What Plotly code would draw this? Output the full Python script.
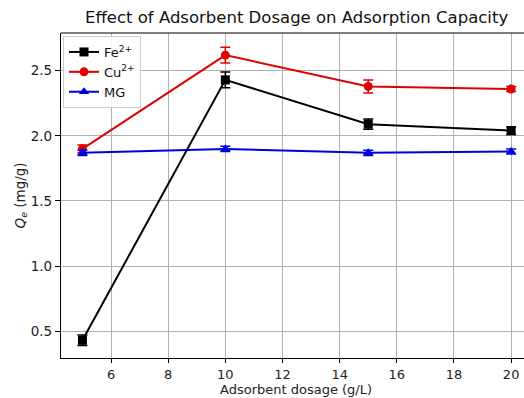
import plotly.graph_objects as go

dosage = [5, 10, 15, 20]
fe_q = [0.43, 2.43, 2.09, 2.04]
fe_err = [0.04, 0.06, 0.04, 0.03]
cu_q = [1.90, 2.62, 2.38, 2.36]
cu_err = [0.03, 0.06, 0.05, 0.02]
mg_q = [1.87, 1.90, 1.87, 1.88]
mg_err = [0.02, 0.02, 0.02, 0.02]

series = [
    ("Fe<sup>2+</sup>", fe_q, fe_err, "black", "square"),
    ("Cu<sup>2+</sup>", cu_q, cu_err, "#e00000", "circle"),
    ("MG", mg_q, mg_err, "#0000dd", "triangle-up"),
]

FONT = "DejaVu Sans"
fig = go.Figure()
for name, q, err, col, sym in series:
    fig.add_trace(go.Scatter(
        x=dosage, y=q, name=name, mode="lines+markers",
        line=dict(color=col, width=2),
        marker=dict(color=col, symbol=sym, size=9),
        error_y=dict(type="data", array=err, visible=True, color=col, thickness=1.5, width=5),
    ))

W, H = 524, 398
L, R, T, B = 61, 0, 33, 40
pw = W - L - R
ph = H - T - B

fig.update_layout(
    width=W, height=H,
    margin=dict(l=L, r=R, t=T, b=B),
    paper_bgcolor="white", plot_bgcolor="white",
    font=dict(family=FONT, size=13, color="#222"),
    showlegend=True,
    legend=dict(x=(63 - L) / pw, y=1 - (36 - T) / ph, xanchor="left", yanchor="top",
                bgcolor="rgba(255,255,255,0.85)", bordercolor="#cccccc", borderwidth=1,
                font=dict(size=13, family=FONT, color="#111"), itemwidth=30,
                tracegroupgap=0),
    xaxis=dict(range=[4.25, 20.45], tickvals=[6, 8, 10, 12, 14, 16, 18, 20],
               showgrid=True, gridcolor="#b0b0b0", gridwidth=1,
               showline=True, linecolor="black", linewidth=1.2, mirror=False,
               ticks="outside", ticklen=4, tickcolor="black", zeroline=False,
               tickfont=dict(size=13, family=FONT, color="#222")),
    yaxis=dict(range=[0.294, 2.79], tickvals=[0.5, 1.0, 1.5, 2.0, 2.5],
               ticktext=["0.5", "1.0", "1.5", "2.0", "2.5"],
               showgrid=True, gridcolor="#b0b0b0", gridwidth=1,
               showline=True, linecolor="black", linewidth=1.2, mirror=False,
               ticks="outside", ticklen=5, tickcolor="black", zeroline=False,
               tickfont=dict(size=13.5, family=FONT, color="#222")),
)

# top spine
fig.add_shape(type="line", xref="paper", yref="paper", x0=0, x1=1, y0=1, y1=1,
              line=dict(color="black", width=1.2))

fig.add_annotation(text="Effect of Adsorbent Dosage on Adsorption Capacity",
                   xref="paper", yref="paper", x=(296 - L) / pw, y=1 + (T - 18) / ph,
                   xanchor="center", yanchor="middle", showarrow=False,
                   font=dict(size=16.5, family=FONT, color="#111"))
fig.add_annotation(text="Adsorbent dosage (g/L)",
                   xref="paper", yref="paper", x=(296 - L) / pw, y=-(389.5 - (T + ph)) / ph,
                   xanchor="center", yanchor="middle", showarrow=False,
                   font=dict(size=13, family=FONT, color="#222"))
fig.add_annotation(text="<i>Q</i><sub><i>e</i></sub> (mg/g)",
                   xref="paper", yref="paper", x=-(L - 20) / pw, y=0.5,
                   xanchor="center", yanchor="middle", showarrow=False, textangle=-90,
                   font=dict(size=13.5, family=FONT, color="#222"))

fig.write_html("out.html")
